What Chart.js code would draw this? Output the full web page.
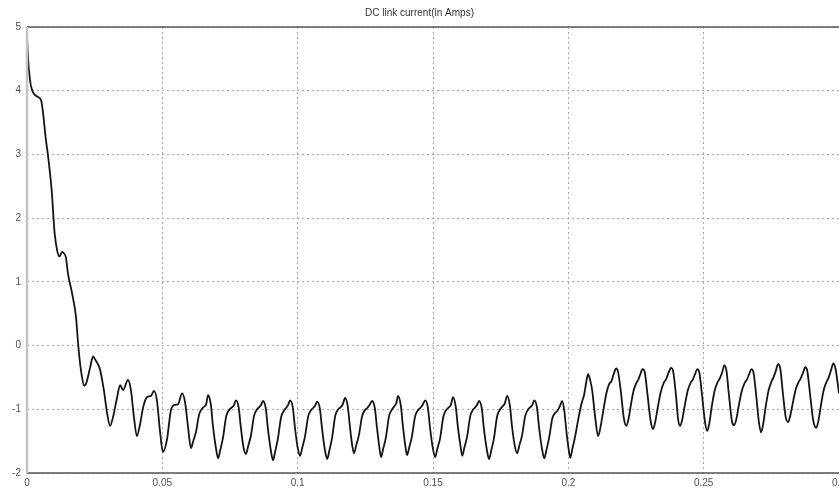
<!DOCTYPE html>
<html>
<head>
<meta charset="utf-8">
<script src="https://cdn.jsdelivr.net/npm/chart.js@4/dist/chart.umd.min.js"></script>
<style>
  html, body { margin: 0; padding: 0; background: #fff; }
  #wrap { width: 839px; height: 490px; }
</style>
</head>
<body>
<div id="wrap"><canvas id="chart"></canvas></div>
<script>
// valori: [tempo (s), corrente (A)]
const avvio = [
  [0, 4.85], [0.0004, 4.5], [0.0011, 4.17], [0.0018, 4.02], [0.0030, 3.93], [0.0041, 3.9],
  [0.0052, 3.85], [0.0058, 3.7], [0.0068, 3.3], [0.0081, 2.86], [0.0092, 2.39], [0.0098, 2.0],
  [0.0102, 1.77], [0.0111, 1.5], [0.0120, 1.4], [0.0130, 1.47], [0.0136, 1.45], [0.0144, 1.38],
  [0.0151, 1.14], [0.0166, 0.83], [0.0181, 0.45], [0.0185, 0.24], [0.0192, -0.12], [0.0203, -0.49],
  [0.0211, -0.63], [0.0218, -0.6], [0.0233, -0.35], [0.0244, -0.17], [0.0252, -0.22], [0.0262, -0.29],
  [0.0270, -0.38], [0.0284, -0.70], [0.0296, -1.06], [0.0307, -1.26]
];
const primeOnde = [
  [0.0318, -1.12], [0.0333, -0.81], [0.0344, -0.62], [0.0355, -0.70], [0.0373, -0.54], [0.0384, -0.70],
  [0.0395, -1.12], [0.0406, -1.42], [0.0417, -1.25], [0.0429, -0.97], [0.0443, -0.81], [0.0458, -0.79],
  [0.0469, -0.71], [0.0480, -0.86], [0.0491, -1.33], [0.0502, -1.67], [0.0517, -1.48], [0.0532, -1.01],
  [0.0547, -0.93], [0.0558, -0.92], [0.0573, -0.75], [0.0584, -0.89], [0.0595, -1.28]
];
const regime = [
  [0.0606, -1.61], [0.0614, -1.5], [0.0624, -1.36], [0.0636, -1.08], [0.0647, -0.99], [0.0654, -0.96], [0.0662, -0.92], [0.0669, -0.78], [0.0679, -0.92], [0.0687, -1.26], [0.0697, -1.58],
  [0.0706, -1.77], [0.0714, -1.64], [0.0724, -1.45], [0.0736, -1.11], [0.0747, -1.01], [0.0754, -0.98], [0.0764, -0.94], [0.0772, -0.86], [0.0782, -0.97], [0.0790, -1.28], [0.0800, -1.6],
  [0.0809, -1.70], [0.0817, -1.58], [0.0827, -1.42], [0.0839, -1.10], [0.0850, -1.0], [0.0857, -0.97], [0.0865, -0.93], [0.0872, -0.87], [0.0882, -0.98], [0.0890, -1.3], [0.0900, -1.62],
  [0.0909, -1.80], [0.0917, -1.66], [0.0927, -1.46], [0.0939, -1.12], [0.0950, -1.02], [0.0957, -0.98], [0.0965, -0.93], [0.0972, -0.86], [0.0982, -0.97], [0.0990, -1.29], [0.1000, -1.6],
  [0.1009, -1.73], [0.1017, -1.6], [0.1027, -1.43], [0.1039, -1.11], [0.1050, -1.01], [0.1057, -0.98], [0.1065, -0.94], [0.1072, -0.88], [0.1082, -0.99], [0.1090, -1.3], [0.1100, -1.62],
  [0.1109, -1.78], [0.1117, -1.65], [0.1127, -1.45], [0.1139, -1.1], [0.1150, -1.0], [0.1158, -0.97], [0.1167, -0.92], [0.1175, -0.82], [0.1185, -0.95], [0.1193, -1.27], [0.1202, -1.58],
  [0.1208, -1.69], [0.1216, -1.57], [0.1226, -1.41], [0.1238, -1.11], [0.1249, -1.01], [0.1257, -0.98], [0.1266, -0.93], [0.1275, -0.87], [0.1285, -0.98], [0.1293, -1.29], [0.1302, -1.6],
  [0.1308, -1.75], [0.1316, -1.62], [0.1326, -1.44], [0.1338, -1.1], [0.1349, -1.0], [0.1356, -0.96], [0.1364, -0.91], [0.1371, -0.79], [0.1381, -0.94], [0.1389, -1.27], [0.1398, -1.58],
  [0.1404, -1.72], [0.1412, -1.6], [0.1422, -1.43], [0.1434, -1.11], [0.1445, -1.01], [0.1453, -0.98], [0.1462, -0.93], [0.1471, -0.86], [0.1481, -0.97], [0.1489, -1.29], [0.1499, -1.6],
  [0.1508, -1.75], [0.1516, -1.62], [0.1526, -1.46], [0.1538, -1.12], [0.1549, -1.01], [0.1556, -0.98], [0.1566, -0.93], [0.1574, -0.81], [0.1584, -0.96], [0.1592, -1.28], [0.1602, -1.59],
  [0.1608, -1.73], [0.1616, -1.6], [0.1626, -1.43], [0.1638, -1.1], [0.1649, -1.0], [0.1656, -0.97], [0.1663, -0.93], [0.1670, -0.87], [0.1680, -0.98], [0.1688, -1.3], [0.1698, -1.61],
  [0.1707, -1.78], [0.1715, -1.65], [0.1725, -1.46], [0.1737, -1.11], [0.1748, -1.0], [0.1756, -0.96], [0.1765, -0.91], [0.1774, -0.79], [0.1784, -0.94], [0.1792, -1.27], [0.1802, -1.57],
  [0.1811, -1.69], [0.1819, -1.57], [0.1829, -1.41], [0.1841, -1.1], [0.1852, -1.0], [0.1859, -0.97], [0.1867, -0.93], [0.1874, -0.86], [0.1884, -0.97], [0.1892, -1.29], [0.1902, -1.6],
  [0.1911, -1.77], [0.1919, -1.64], [0.1929, -1.45], [0.1941, -1.14], [0.1951, -1.06], [0.1960, -1.02], [0.1969, -0.95], [0.1977, -0.87], [0.1985, -1.02], [0.1993, -1.35], [0.2001, -1.62]
];
const dopoGradino = [
  [0.2007, -1.76], [0.2015, -1.62], [0.2025, -1.43], [0.2036, -1.17], [0.2050, -0.89], [0.2058, -0.78], [0.2066, -0.58], [0.2073, -0.45], [0.2081, -0.55], [0.2088, -0.70], [0.2099, -1.12],
  [0.2110, -1.42], [0.2118, -1.3], [0.2127, -1.08], [0.2140, -0.76], [0.2151, -0.6], [0.2159, -0.56], [0.2168, -0.44], [0.2177, -0.36], [0.2184, -0.42], [0.2194, -0.72], [0.2205, -1.14],
  [0.2214, -1.26], [0.2222, -1.16], [0.2230, -0.96], [0.2241, -0.71], [0.2252, -0.58], [0.2259, -0.53], [0.2266, -0.45], [0.2274, -0.37], [0.2282, -0.41], [0.2292, -0.75], [0.2304, -1.18],
  [0.2313, -1.31], [0.2321, -1.2], [0.2330, -0.98], [0.2342, -0.72], [0.2353, -0.58], [0.2361, -0.53], [0.2370, -0.43], [0.2379, -0.35], [0.2387, -0.4], [0.2397, -0.75], [0.2406, -1.17],
  [0.2413, -1.26], [0.2421, -1.16], [0.2429, -0.97], [0.2441, -0.71], [0.2452, -0.58], [0.2459, -0.54], [0.2468, -0.45], [0.2476, -0.37], [0.2484, -0.42], [0.2494, -0.78], [0.2505, -1.2],
  [0.2513, -1.34], [0.2521, -1.22], [0.2529, -0.98], [0.2541, -0.7], [0.2552, -0.57], [0.2560, -0.51], [0.2569, -0.41], [0.2576, -0.31], [0.2584, -0.39], [0.2594, -0.8], [0.2605, -1.2],
  [0.2613, -1.25], [0.2621, -1.15], [0.2629, -0.96], [0.2641, -0.71], [0.2652, -0.58], [0.2659, -0.54], [0.2668, -0.45], [0.2676, -0.37], [0.2684, -0.42], [0.2694, -0.78], [0.2704, -1.2],
  [0.2712, -1.36], [0.2720, -1.23], [0.2728, -0.99], [0.2740, -0.7], [0.2751, -0.56], [0.2758, -0.5], [0.2767, -0.39], [0.2775, -0.29], [0.2783, -0.36], [0.2793, -0.76], [0.2803, -1.12],
  [0.2812, -1.20], [0.2820, -1.1], [0.2828, -0.93], [0.2840, -0.69], [0.2851, -0.57], [0.2858, -0.52], [0.2867, -0.43], [0.2875, -0.34], [0.2883, -0.4], [0.2893, -0.76], [0.2905, -1.18],
  [0.2916, -1.29], [0.2924, -1.18], [0.2932, -0.97], [0.2944, -0.69], [0.2955, -0.56], [0.2962, -0.5], [0.2971, -0.38], [0.2979, -0.28], [0.2987, -0.36], [0.3000, -0.75]
];
const ticksX = [0, 0.05, 0.1, 0.15, 0.2, 0.25, 0.3];
const ticksY = [-2, -1, 0, 1, 2, 3, 4, 5];
const titolo = 'DC link current(in Amps)';

const punti = [...avvio, ...primeOnde, ...regime, ...dopoGradino].map(([x, y]) => ({ x, y }));

// cornice stile matlab attorno all'area del grafico
const cornice = {
  id: 'cornice',
  afterDraw(chart) {
    const { ctx, chartArea: a } = chart;
    ctx.save();
    ctx.strokeStyle = '#555';
    ctx.lineWidth = 1.5;
    ctx.beginPath();
    ctx.moveTo(a.left, a.top); ctx.lineTo(a.right, a.top);
    ctx.moveTo(a.left, a.bottom); ctx.lineTo(a.right, a.bottom);
    ctx.stroke();
    ctx.strokeStyle = '#c4c4c4';
    ctx.lineWidth = 2.5;
    ctx.beginPath();
    ctx.moveTo(a.left, a.top); ctx.lineTo(a.left, a.bottom);
    ctx.stroke();
    ctx.restore();
  }
};

const font = { family: "'Liberation Sans', Arial, sans-serif", size: 10 };

new Chart(document.getElementById('chart'), {
  type: 'line',
  data: {
    datasets: [{
      label: titolo,
      data: punti,
      borderColor: '#141414',
      borderWidth: 1.8,
      pointRadius: 0,
      cubicInterpolationMode: 'monotone',
      fill: false
    }]
  },
  options: {
    responsive: true,
    maintainAspectRatio: false,
    animation: false,
    layout: { padding: 0 },
    plugins: {
      legend: { display: false },
      tooltip: { enabled: false },
      title: {
        display: true,
        text: titolo,
        color: '#333',
        font: { family: font.family, size: 10, weight: 'normal' },
        padding: { top: 7, bottom: 8 }
      }
    },
    scales: {
      x: {
        type: 'linear',
        min: ticksX[0],
        max: ticksX[ticksX.length - 1],
        afterBuildTicks: s => { s.ticks = ticksX.map(v => ({ value: v })); },
        afterFit: s => { s.height = 17; s.paddingLeft = 0; s.paddingRight = 0; },
        ticks: {
          color: '#4a4f5e',
          font,
          padding: 4,
          maxRotation: 0,
          callback: v => String(parseFloat(v.toFixed(2)))
        },
        grid: { color: '#a8a8a8', lineWidth: 1, drawTicks: false },
        border: { display: false, dash: [2, 3] }
      },
      y: {
        type: 'linear',
        min: ticksY[0],
        max: ticksY[ticksY.length - 1],
        afterBuildTicks: s => { s.ticks = ticksY.map(v => ({ value: v })); },
        afterFit: s => { s.width = 27; },
        ticks: { color: '#4a4f5e', font, padding: 6 },
        grid: { color: '#a8a8a8', lineWidth: 1, drawTicks: false },
        border: { display: false, dash: [2, 3] }
      }
    }
  },
  plugins: [cornice]
});
</script>
</body>
</html>
